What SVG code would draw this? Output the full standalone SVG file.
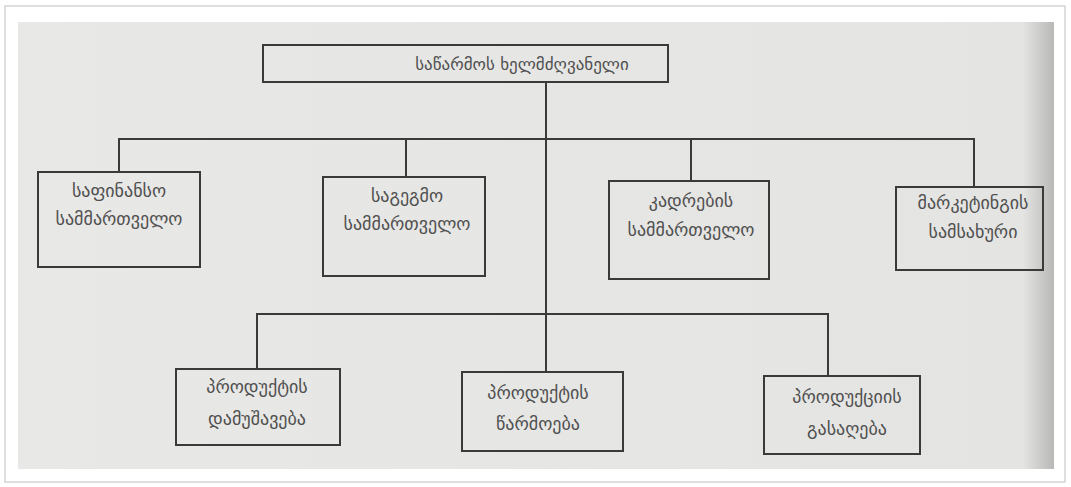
<svg xmlns="http://www.w3.org/2000/svg" width="1071" height="487" viewBox="0 0 1071 487">
<defs>
<style>
.box{fill:none;stroke:#3a3a3a;stroke-width:2}
.ln{fill:none;stroke:#3a3a3a;stroke-width:2}
.t{font-family:"DejaVu Sans","Noto Sans",sans-serif;font-size:18px;fill:#505050;text-anchor:middle}
.tt{font-size:17px}
</style>
<linearGradient id="edge" x1="0" y1="0" x2="1" y2="0">
<stop offset="0" stop-color="#e8e8e6"/>
<stop offset="0.97" stop-color="#e4e4e2"/>
<stop offset="1" stop-color="#b8b8b6"/>
</linearGradient>
</defs>
<rect x="0" y="0" width="1071" height="487" fill="#ffffff"/>
<rect x="5" y="6" width="1060" height="476" fill="#ffffff" stroke="#d4d4d4" stroke-width="1.5"/>
<rect x="18" y="22" width="1036" height="447" fill="url(#edge)"/>
<g id="connectors">
<path class="ln" d="M546 83 V372"/>
<path class="ln" d="M119 172 V139 H974 V187"/>
<path class="ln" d="M406 139 V177"/>
<path class="ln" d="M691 139 V181"/>
<path class="ln" d="M257 369 V314 H828 V376"/>
</g>
<g id="n0"><rect class="box" x="263" y="45" width="405" height="37"/><text class="t tt" x="522" y="70">საწარმოს ხელმძღვანელი</text></g>
<g id="n1"><rect class="box" x="38" y="172" width="162" height="95"/><text class="t" x="119" y="197">საფინანსო</text><text class="t" x="119" y="225">სამმართველო</text></g>
<g id="n2"><rect class="box" x="323" y="177" width="162" height="99"/><text class="t" x="407" y="202">საგეგმო</text><text class="t" x="407" y="230">სამმართველო</text></g>
<g id="n3"><rect class="box" x="609" y="181" width="160" height="98"/><text class="t" x="691" y="207">კადრების</text><text class="t" x="691" y="236">სამმართველო</text></g>
<g id="n4"><rect class="box" x="896" y="187" width="147" height="83"/><text class="t" x="973" y="209">მარკეტინგის</text><text class="t" x="973" y="238">სამსახური</text></g>
<g id="n5"><rect class="box" x="176" y="369" width="164" height="76"/><text class="t" x="257" y="393">პროდუქტის</text><text class="t" x="257" y="425">დამუშავება</text></g>
<g id="n6"><rect class="box" x="462" y="372" width="161" height="79"/><text class="t" x="538" y="399">პროდუქტის</text><text class="t" x="538" y="430">წარმოება</text></g>
<g id="n7"><rect class="box" x="764" y="376" width="156" height="78"/><text class="t" x="847" y="403">პროდუქციის</text><text class="t" x="847" y="435">გასაღება</text></g>
</svg>
